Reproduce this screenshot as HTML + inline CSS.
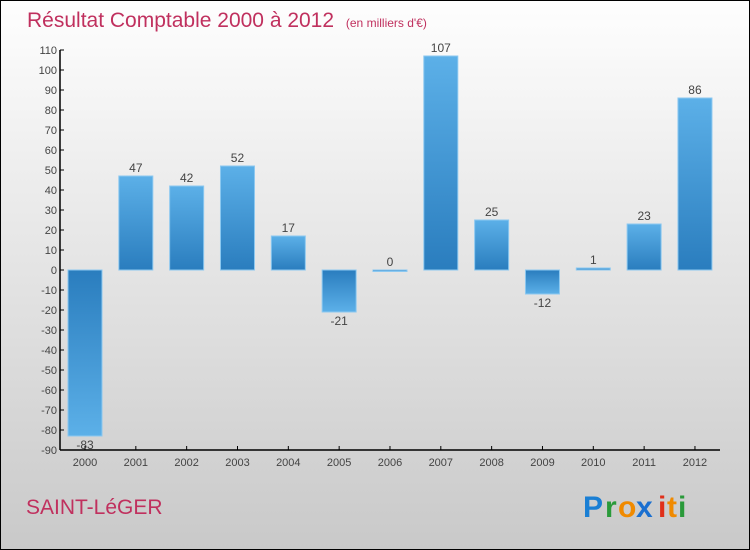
<!DOCTYPE html>
<html><head><meta charset="utf-8"><style>
body{margin:0;width:750px;height:550px;overflow:hidden;font-family:"Liberation Sans",sans-serif}
svg{display:block}
</style></head><body>
<svg width="750" height="550" xmlns="http://www.w3.org/2000/svg">
<defs>
<linearGradient id="bg" x1="0" y1="0" x2="0" y2="1"><stop offset="0" stop-color="#fefefe"/><stop offset="1" stop-color="#c9c9c9"/></linearGradient>
<linearGradient id="gp" x1="0" y1="0" x2="0" y2="1"><stop offset="0" stop-color="#5cb0e8"/><stop offset="1" stop-color="#2a7dbe"/></linearGradient>
<linearGradient id="gn" x1="0" y1="0" x2="0" y2="1"><stop offset="0" stop-color="#2a7dbe"/><stop offset="1" stop-color="#5cb0e8"/></linearGradient>
</defs>
<rect x="0.5" y="0.5" width="749" height="549" fill="url(#bg)" stroke="#000"/>
<text x="27" y="27" font-size="21" fill="#c0305e">Résultat Comptable 2000 à 2012 <tspan font-size="12" dx="6">(en milliers d'€)</tspan></text>
<g id="axes"></g>
<g id="bars"></g>
<text x="26" y="514" font-size="21" fill="#c0305e">SAINT-LéGER</text>
<g font-size="30" font-weight="bold">
<text x="583" y="517" fill="#1a7fd4">P</text><text x="605" y="517" fill="#2a9a3a">r</text><text x="618" y="517" fill="#f08a00">o</text><text x="636" y="517" fill="#1a6fd0">x</text><text x="658" y="517" fill="#e0301a">i</text><text x="667" y="517" fill="#f08a00">t</text><text x="678" y="517" fill="#2a9a3a">i</text>
</g>
</svg>
<script>
const years=["2000","2001","2002","2003","2004","2005","2006","2007","2008","2009","2010","2011","2012"];
const values=[-83,47,42,52,17,-21,0,107,25,-12,1,23,86];
const yTicks=[110,100,90,80,70,60,50,40,30,20,10,0,-10,-20,-30,-40,-50,-60,-70,-80,-90];
const NS="http://www.w3.org/2000/svg";
const yS=v=>270-v*2;
const xS=i=>85+i*50.83;
function mk(t,a,p){const e=document.createElementNS(NS,t);for(const k in a)e.setAttribute(k,a[k]);p.appendChild(e);return e;}
const ax=document.getElementById('axes'),bg=document.getElementById('bars');
let l=mk('line',{x1:60,y1:50,x2:60,y2:450,stroke:'#000','stroke-width':1.5},ax);


l=mk('line',{x1:60,y1:450,x2:720,y2:450,stroke:'#000','stroke-width':1.5},ax);


yTicks.forEach(v=>{
 mk('line',{x1:60,y1:yS(v),x2:64,y2:yS(v),stroke:'#000'},ax);
 const t=mk('text',{x:57,y:yS(v)+4,'text-anchor':'end','font-size':11,fill:'#444'},ax);
 t.textContent=v;
 
 
});
years.forEach((y,i)=>{
 mk('line',{x1:xS(i),y1:446,x2:xS(i),y2:450,stroke:'#000'},ax);
 const t=mk('text',{x:xS(i),y:466,'text-anchor':'middle','font-size':11,fill:'#444'},ax);
 t.textContent=y;
 
 
 const v=values[i];
 const top=Math.min(yS(v),yS(0)),h=Math.max(Math.abs(yS(v)-yS(0)),1.5);
 const r=mk('rect',{x:xS(i)-17,y:top,width:34,height:h,fill:v>=0?'url(#gp)':'url(#gn)',stroke:'#8cc8f0','stroke-width':1},bg);
 
 
 const lb=mk('text',{x:xS(i),y:v>=0?yS(v)-4:yS(v)+13,'text-anchor':'middle','font-size':12,fill:'#444'},bg);
 lb.textContent=v;
 
 
});
</script>
</body></html>
